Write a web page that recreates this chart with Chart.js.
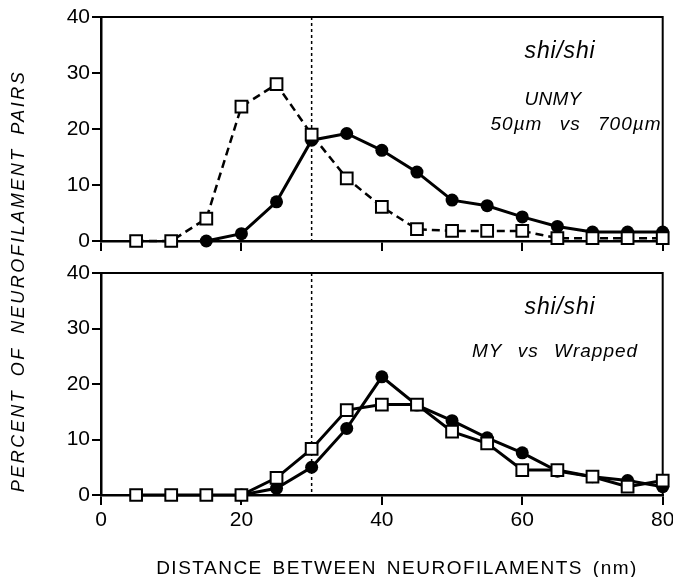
<!DOCTYPE html>
<html>
<head>
<meta charset="utf-8">
<script src="https://cdn.jsdelivr.net/npm/chart.js@4.4.1/dist/chart.umd.min.js"></script>
<style>
html, body { margin: 0; padding: 0; background: #fff; }
#quadro { position: relative; width: 673px; height: 577px; overflow: hidden; background: #fff; }
#quadro canvas { position: absolute; left: 0; top: 0; }
</style>
</head>
<body>
<div id="quadro">
    <canvas id="painel-sup" width="673" height="577"></canvas>
    <canvas id="painel-inf" width="673" height="577"></canvas>
</div>
<script>
const distancias = [5, 10, 15, 20, 25, 30, 35, 40, 45, 50, 55, 60, 65, 70, 75, 80];

// painel superior: UNMY 50um vs 700um
const unmyCirculos = [null, null, 0, 1.3, 7, 18, 19.2, 16.2, 12.3, 7.3, 6.3, 4.3, 2.6, 1.6, 1.6, 1.6];
const unmyQuadrados = [0, 0, 4, 24, 28, 19, 11.2, 6.1, 2.1, 1.8, 1.8, 1.8, 0.5, 0.5, 0.5, 0.5];

// painel inferior: MY vs Wrapped
const myCirculos = [null, null, null, 0, 1.2, 5, 12, 21.3, 16.2, 13.4, 10.3, 7.6, 4.3, 3.3, 2.6, 1.5];
const myQuadrados = [0, 0, 0, 0, 3.1, 8.3, 15.3, 16.3, 16.3, 11.4, 9.3, 4.5, 4.5, 3.3, 1.5, 2.6];

const ticksX = [0, 20, 40, 60, 80];
const ticksY = [0, 10, 20, 30, 40];
const linhaReferencia = 30;

const FONTE = '"Liberation Sans", Arial, sans-serif';

function pontos(valores) {
    return distancias.map((d, i) => ({ x: d, y: valores[i] }));
}

function serieCirculos(valores) {
    return {
        data: pontos(valores),
        borderColor: "#000",
        borderWidth: 3,
        pointStyle: "circle",
        pointRadius: 6.5,
        pointBackgroundColor: "#000",
        pointBorderWidth: 0,
        tension: 0,
        clip: false,
        order: 1
    };
}

function serieQuadrados(valores, tracejada) {
    return {
        data: pontos(valores),
        borderColor: "#000",
        borderWidth: tracejada ? 2.5 : 3,
        borderDash: tracejada ? [8, 5] : [],
        pointStyle: "rect",
        pointRadius: 8.3,
        pointBackgroundColor: "#fff",
        pointBorderColor: "#000",
        pointBorderWidth: 2,
        tension: 0,
        clip: false,
        order: 0
    };
}

function texto(ctx, str, x, y, fonte, espaco, palavra) {
    ctx.save();
    ctx.font = fonte;
    ctx.letterSpacing = espaco + "px";
    ctx.wordSpacing = (palavra || 0) + "px";
    ctx.fillStyle = "#000";
    ctx.textAlign = "center";
    ctx.textBaseline = "alphabetic";
    ctx.fillText(str, x, y);
    ctx.restore();
}

const molduraPlugin = {
    id: "moldura",
    beforeDatasetsDraw(chart) {
        const { ctx, chartArea: a } = chart;
        const xRef = chart.scales.x.getPixelForValue(linhaReferencia);
        ctx.save();
        ctx.strokeStyle = "#000";
        ctx.lineWidth = 1.5;
        ctx.setLineDash([3, 3]);
        ctx.beginPath();
        ctx.moveTo(xRef, a.top);
        ctx.lineTo(xRef, a.bottom);
        ctx.stroke();
        ctx.setLineDash([]);
        ctx.lineWidth = 2;
        ctx.beginPath();
        ctx.moveTo(a.left, a.top);
        ctx.lineTo(a.right, a.top);
        ctx.lineTo(a.right, a.bottom);
        ctx.stroke();
        ctx.restore();
    },
    afterDraw(chart, args, opts) {
        const { ctx, chartArea: a } = chart;
        texto(ctx, "shi/shi", 560, a.top + 41, "italic 23px " + FONTE, 0.8);
        if (opts.painel === "sup") {
            texto(ctx, "UNMY", 553, 105, "italic 19px " + FONTE, 0.3);
            texto(ctx, "50µm vs 700µm", 576, 130, "italic 19px " + FONTE, 1, 11);
            ctx.save();
            ctx.translate(19, 281);
            ctx.rotate(-Math.PI / 2);
            ctx.font = "italic 18px " + FONTE;
            ctx.letterSpacing = "2.5px";
            ctx.wordSpacing = "5px";
            ctx.fillStyle = "#000";
            ctx.textAlign = "center";
            ctx.textBaseline = "middle";
            ctx.fillText("PERCENT OF NEUROFILAMENT PAIRS", 0, 0);
            ctx.restore();
        } else {
            texto(ctx, "MY vs Wrapped", 555, 357, "italic 19px " + FONTE, 1, 9);
            texto(ctx, "DISTANCE BETWEEN NEUROFILAMENTS (nm)", 397, 574, "19px " + FONTE, 1.5, 3);
        }
    }
};

function criarPainel(id, painel, datasets) {
    const sup = painel === "sup";
    const alturaX = sup ? 10 : 82;
    return new Chart(document.getElementById(id), {
        type: "line",
        data: { datasets },
        options: {
            responsive: false,
            animation: false,
            events: [],
            devicePixelRatio: 1,
            layout: {
                padding: sup
                    ? { top: 17, right: 8, bottom: 577 - 241 - alturaX, left: 0 }
                    : { top: 273, right: 8, bottom: 0, left: 0 }
            },
            plugins: {
                legend: { display: false },
                tooltip: { enabled: false },
                moldura: { painel }
            },
            scales: {
                x: {
                    type: "linear",
                    min: 0,
                    max: 80,
                    afterBuildTicks: s => { s.ticks = ticksX.map(v => ({ value: v })); },
                    afterFit: s => { s.height = alturaX; s.paddingLeft = 0; s.paddingRight = 0; },
                    ticks: {
                        display: !sup,
                        color: "#000",
                        font: { family: FONTE, size: 21 },
                        padding: 3,
                        maxRotation: 0,
                        autoSkip: false
                    },
                    grid: { drawOnChartArea: false, drawTicks: true, tickLength: 10, color: "#000", lineWidth: 2 },
                    border: { color: "#000", width: 2.5 }
                },
                y: {
                    min: 0,
                    max: 40,
                    afterBuildTicks: s => { s.ticks = ticksY.map(v => ({ value: v })); },
                    afterFit: s => { s.width = 101; s.paddingTop = 0; s.paddingBottom = 0; },
                    ticks: {
                        color: "#000",
                        font: { family: FONTE, size: 21 },
                        padding: 2
                    },
                    grid: { drawOnChartArea: false, drawTicks: true, tickLength: 9, color: "#000", lineWidth: 2 },
                    border: { color: "#000", width: 2.5 }
                }
            }
        },
        plugins: [molduraPlugin]
    });
}

criarPainel("painel-sup", "sup", [serieQuadrados(unmyQuadrados, true), serieCirculos(unmyCirculos)]);
criarPainel("painel-inf", "inf", [serieQuadrados(myQuadrados, false), serieCirculos(myCirculos)]);
</script>
</body>
</html>
